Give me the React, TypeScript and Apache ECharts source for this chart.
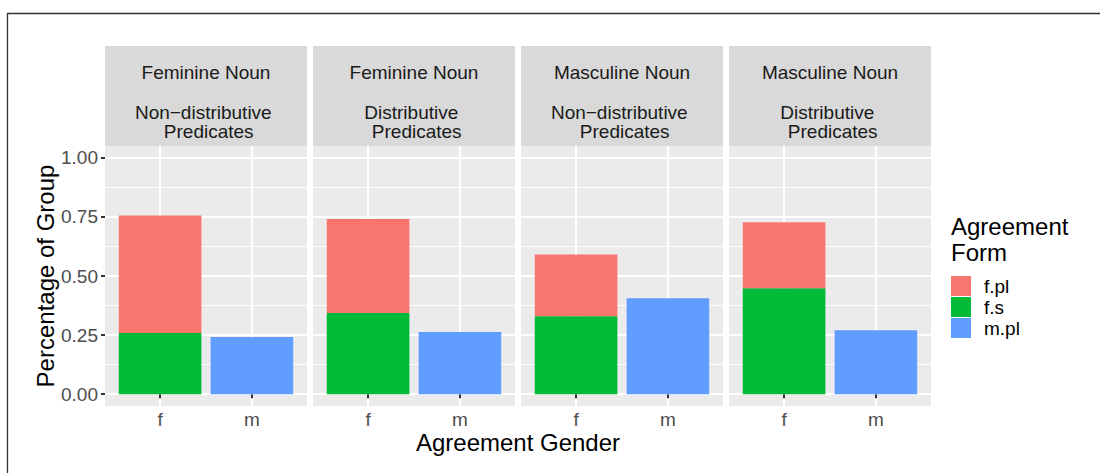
import React, { useEffect, useRef } from 'react';
import * as echarts from 'echarts';

// ---- data ----
const genders = ['f', 'm'];
const nounLabels = ['Feminine Noun', 'Feminine Noun', 'Masculine Noun', 'Masculine Noun'];
const predicateLabels = ['Non\u2212distributive', 'Distributive', 'Non\u2212distributive', 'Distributive'];
const predicateSuffix = 'Predicates';
const forms = ['f.pl', 'f.s', 'm.pl'];
const fsValues = [0.259, 0.343, 0.330, 0.448];
const fplValues = [0.497, 0.398, 0.261, 0.279];
const mplValues = [0.242, 0.263, 0.406, 0.270];
const yTicks = [0, 0.25, 0.5, 0.75, 1];
const yMinorTicks = [0.125, 0.375, 0.625, 0.875];
const xTitle = 'Agreement Gender';
const yTitle = 'Percentage of Group';
const legendTitle = 'Agreement\nForm';

const formColors: Record<string, string> = { 'f.pl': '#F8766D', 'f.s': '#00BA38', 'm.pl': '#619CFF' };

// ---- layout ----
const FONT = '"Liberation Sans", Arial, Helvetica, sans-serif';
const PANEL_LEFT = 105;
const PANEL_W = 202;
const PANEL_STEP = 208;
const GRID_TOP = 146;
const GRID_H = 260;
const STRIP_TOP = 46;
const STRIP_H = 100;
const X_MIN = 0.4;
const X_MAX = 2.6;
const Y_MIN = -0.05;
const Y_MAX = 1.05;
const BAR_W = (0.9 * PANEL_W) / (X_MAX - X_MIN);

export default function App() {
  const ref = useRef<HTMLDivElement>(null);

  useEffect(() => {
    if (!ref.current) return;
    const chart = echarts.init(ref.current, undefined, { renderer: 'svg' });
    const n = nounLabels.length;
    const grids: any[] = [];
    const xAxes: any[] = [];
    const yAxes: any[] = [];
    const series: any[] = [];
    const graphics: any[] = [];

    graphics.push({
      type: 'rect',
      shape: { x: 7.5, y: 13.5, width: 1300, height: 700 },
      style: { fill: 'none', stroke: '#333333', lineWidth: 1.3 },
      silent: true,
    });

    for (let i = 0; i < n; i++) {
      const left = PANEL_LEFT + i * PANEL_STEP;
      const cx = left + PANEL_W / 2;
      grids.push({
        left,
        top: GRID_TOP,
        width: PANEL_W,
        height: GRID_H,
        show: true,
        backgroundColor: '#EBEBEB',
        borderWidth: 0,
        containLabel: false,
      });
      xAxes.push({
        gridIndex: i,
        type: 'value',
        min: X_MIN,
        max: X_MAX,
        axisLine: { show: false },
        axisTick: { show: true, customValues: [1, 2], length: 4, lineStyle: { color: '#333333', width: 2 } },
        axisLabel: {
          show: true,
          customValues: [1, 2],
          formatter: (v: number) => genders[Math.round(v) - 1] ?? '',
          color: '#4D4D4D',
          fontSize: 19,
          fontFamily: FONT,
          margin: 4,
        },
        splitLine: { show: true, lineStyle: { color: '#FFFFFF', width: 2 } },
      });
      yAxes.push({
        gridIndex: i,
        type: 'value',
        min: Y_MIN,
        max: Y_MAX,
        axisLine: { show: false },
        axisTick: { show: i === 0, customValues: yTicks, length: 4, lineStyle: { color: '#333333', width: 2 } },
        axisLabel: {
          show: i === 0,
          customValues: yTicks,
          formatter: (v: number) => v.toFixed(2),
          color: '#4D4D4D',
          fontSize: 19,
          fontFamily: FONT,
          margin: 7,
        },
        splitLine: { show: true, lineStyle: { color: '#FFFFFF', width: 2 } },
      });
      yAxes.push({
        gridIndex: i,
        type: 'value',
        min: Y_MIN,
        max: Y_MAX,
        position: 'left',
        axisLine: { show: false },
        axisTick: { show: false, customValues: yMinorTicks },
        axisLabel: { show: false, customValues: yMinorTicks },
        splitLine: { show: true, lineStyle: { color: '#FFFFFF', width: 1 } },
      });

      // data given as [value, position] so the stacked dimension is the value (y)
      const common = {
        type: 'bar',
        xAxisIndex: i,
        yAxisIndex: 2 * i,
        barWidth: BAR_W,
        barGap: '-100%',
        encode: { x: 1, y: 0 },
        z: 3,
      };
      series.push({
        ...common,
        name: 'f.s',
        stack: 'fem' + i,
        itemStyle: { color: formColors['f.s'] },
        data: [[fsValues[i], 1]],
      });
      series.push({
        ...common,
        name: 'f.pl',
        stack: 'fem' + i,
        itemStyle: { color: formColors['f.pl'] },
        data: [[fplValues[i], 1]],
      });
      series.push({
        ...common,
        name: 'm.pl',
        itemStyle: { color: formColors['m.pl'] },
        data: [[mplValues[i], 2]],
      });

      // strip
      graphics.push({
        type: 'rect',
        shape: { x: left, y: STRIP_TOP, width: PANEL_W, height: STRIP_H },
        style: { fill: '#D9D9D9' },
        silent: true,
      });
      graphics.push({
        type: 'text',
        x: cx,
        y: 72,
        style: { text: nounLabels[i], fill: '#1A1A1A', fontSize: 19, fontFamily: FONT, align: 'center', verticalAlign: 'middle' },
        silent: true,
      });
      graphics.push({
        type: 'text',
        x: cx - 2.7,
        y: 112.5,
        style: { text: predicateLabels[i], fill: '#1A1A1A', fontSize: 19, fontFamily: FONT, align: 'center', verticalAlign: 'middle' },
        silent: true,
      });
      graphics.push({
        type: 'text',
        x: cx + 2.7,
        y: 131.8,
        style: { text: predicateSuffix, fill: '#1A1A1A', fontSize: 19, fontFamily: FONT, align: 'center', verticalAlign: 'middle' },
        silent: true,
      });
    }

    const totalMid = PANEL_LEFT + ((n - 1) * PANEL_STEP + PANEL_W) / 2;
    graphics.push({
      type: 'text',
      x: totalMid,
      y: 442,
      style: { text: xTitle, fill: '#000000', fontSize: 24, fontFamily: FONT, align: 'center', verticalAlign: 'middle' },
      silent: true,
    });
    graphics.push({
      type: 'text',
      x: 45,
      y: GRID_TOP + GRID_H / 2,
      rotation: Math.PI / 2,
      style: { text: yTitle, fill: '#000000', fontSize: 24, fontFamily: FONT, align: 'center', verticalAlign: 'middle' },
      silent: true,
    });
    graphics.push({
      type: 'text',
      x: 951,
      y: 239.5,
      style: {
        text: legendTitle,
        fill: '#000000',
        fontSize: 24,
        lineHeight: 26.5,
        fontFamily: FONT,
        align: 'left',
        verticalAlign: 'middle',
      },
      silent: true,
    });

    chart.setOption({
      animation: false,
      backgroundColor: '#FFFFFF',
      textStyle: { fontFamily: FONT },
      grid: grids,
      xAxis: xAxes,
      yAxis: yAxes,
      series,
      legend: {
        data: forms,
        orient: 'vertical',
        left: 951,
        top: 276,
        padding: 0,
        itemWidth: 20,
        itemHeight: 20,
        itemGap: 1,
        icon: 'rect',
        selectedMode: false,
        textStyle: { fontSize: 19, color: '#000000', fontFamily: FONT, padding: [0, 0, 0, 8] },
      },
      graphic: graphics,
    });

    return () => {
      chart.dispose();
    };
  }, []);

  return (
    <div
      ref={ref}
      style={{ position: 'absolute', left: 0, top: 0, width: 1100, height: 473, background: '#FFFFFF' }}
    />
  );
}
